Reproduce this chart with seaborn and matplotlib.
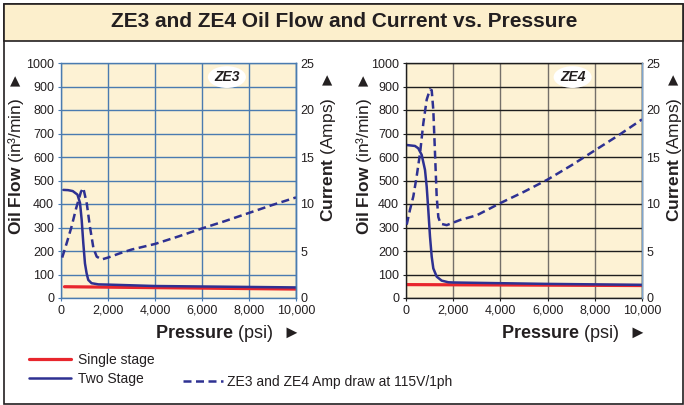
import matplotlib
matplotlib.use("Agg")
import matplotlib.pyplot as plt
from matplotlib.lines import Line2D
from matplotlib.patches import Rectangle
import seaborn as sns

# ---- values (psi, in^3/min, Amps) ----
ZE3_SINGLE_PSI = [150, 10000]
ZE3_SINGLE_FLOW = [48, 38]
ZE3_TWO_PSI = [100, 300, 500, 700, 810, 880, 950, 1020, 1090, 1160, 1300, 1590,
               2000, 4000, 6000, 8000, 10000]
ZE3_TWO_FLOW = [460, 459, 455, 440, 404, 332, 232, 147, 105, 77, 63, 58,
                57, 51, 49, 47, 45]
ZE3_AMP_PSI = [50, 250, 450, 650, 850, 950, 1100, 1230, 1380, 1520, 1730, 2000,
               2500, 3000, 4000, 5000, 6000, 7000, 8000, 9000, 10000]
ZE3_AMPS = [4.3, 5.9, 7.6, 9.6, 11.3, 11.7, 10.0, 7.6, 5.3, 4.4, 4.1, 4.3,
            4.75, 5.15, 5.75, 6.55, 7.4, 8.2, 9.05, 9.9, 10.7]

ZE4_SINGLE_PSI = [30, 10000]
ZE4_SINGLE_FLOW = [57, 53]
ZE4_TWO_PSI = [30, 380, 520, 665, 805, 877, 945, 1017, 1089, 1157, 1300, 1510,
               1790, 2000, 4000, 6000, 8000, 10000]
ZE4_TWO_FLOW = [651, 647, 637, 609, 545, 474, 374, 261, 176, 126, 91, 74,
                67, 66, 63, 60, 58, 56]
ZE4_AMP_PSI = [30, 170, 310, 450, 595, 735, 877, 1017, 1089, 1157, 1229, 1300,
               1370, 1470, 1725, 2290, 3000, 4000, 5000, 6000, 7000, 8000, 9000, 10000]
ZE4_AMPS = [7.8, 9.4, 10.8, 12.9, 15.4, 18.6, 21.1, 22.2, 22.1, 20.0, 15.4, 10.8,
            8.6, 7.9, 7.75, 8.3, 8.8, 10.1, 11.3, 12.6, 14.1, 15.7, 17.3, 19.0]

PSI_TICKS = [0, 2000, 4000, 6000, 8000, 10000]
FLOW_TICKS = list(range(0, 1001, 100))
AMP_TICKS = [0, 5, 10, 15, 20, 25]

TITLE = "ZE3 and ZE4 Oil Flow and Current vs. Pressure"
# labels are rotated 90 deg, so the right-pointing arrow ends up pointing up
FLOW_LABEL = r"$\mathbf{Oil\ Flow}$ (in³/min)  ►"
AMP_LABEL = r"$\mathbf{Current}$ (Amps)  ►"
PSI_LABEL = r"$\mathbf{Pressure}$ (psi)  ►"

CREAM = "#fdf2d4"
BAND = "#fcefcc"
RED = "#e8262d"
BLUE = "#2e3192"
TEXT = "#231f20"
DASH = (0, (3.2, 1.8))

sns.set_style("white")
plt.rcParams["font.family"] = ["Liberation Sans", "DejaVu Sans"]
plt.rcParams["mathtext.fontset"] = "custom"
plt.rcParams["mathtext.rm"] = "Liberation Sans"
plt.rcParams["mathtext.bf"] = "Liberation Sans:bold"
plt.rcParams["mathtext.it"] = "Liberation Sans:italic"


def draw_panel(ax, name, single, two, amps, grid_h, grid_v, spine_col, right_col,
               flow_lab_x, amp_lab_x):
    ax.set_facecolor(CREAM)
    ax.set_axisbelow(True)
    sns.lineplot(x=single[0], y=single[1], ax=ax, color=RED, linewidth=2.3)
    sns.lineplot(x=two[0], y=two[1], ax=ax, color=BLUE, linewidth=1.8)

    ax.set_xlim(0, 10000)
    ax.set_ylim(0, 1000)
    ax.set_xticks(PSI_TICKS)
    ax.set_xticklabels([f"{v:,}" for v in PSI_TICKS])
    ax.set_yticks(FLOW_TICKS)
    ax.xaxis.grid(True, color=grid_v, linewidth=1.0)
    ax.yaxis.grid(True, color=grid_h, linewidth=1.0)
    ax.tick_params(bottom=True, left=True, length=2.5, width=0.8, color=spine_col,
                   labelsize=9, labelcolor=TEXT, pad=2.5)
    for s in ax.spines.values():
        s.set_color(spine_col)
        s.set_linewidth(1.0)

    ax2 = ax.twinx()
    sns.lineplot(x=amps[0], y=amps[1], ax=ax2, color=BLUE, linewidth=1.8, linestyle=DASH)
    ax2.set_ylim(0, 25)
    ax2.set_yticks(AMP_TICKS)
    ax2.grid(False)
    ax2.tick_params(right=True, length=0, labelsize=9, labelcolor=TEXT, pad=3)
    for side in ["left", "top", "bottom"]:
        ax2.spines[side].set_visible(False)
    ax2.spines["right"].set_color(right_col)
    ax2.spines["right"].set_linewidth(1.0)

    ax.set_ylabel(FLOW_LABEL, fontsize=12.5, color=TEXT, loc="top")
    ax.yaxis.set_label_coords(flow_lab_x, 0.957)
    ax2.set_ylabel(AMP_LABEL, fontsize=12.5, color=TEXT, loc="top")
    ax2.yaxis.set_label_coords(amp_lab_x, 0.957)
    ax.set_xlabel(PSI_LABEL, fontsize=13, color=TEXT, loc="right")
    ax.xaxis.set_label_coords(1.01, -0.105)

    ax.text(0.706, 0.94, name, transform=ax.transAxes, fontsize=10, fontweight="bold",
            fontstyle="italic", ha="center", va="center", color=TEXT, zorder=5,
            bbox=dict(boxstyle="ellipse,pad=0.05", fc="white", ec="none"))


fig = plt.figure(figsize=(6.84, 4.05), dpi=100)

# frame and title band
fig.add_artist(Rectangle((4 / 684, 1 - 403.5 / 405), 679 / 684, 399.5 / 405,
                         transform=fig.transFigure, fc="white", ec="#231f20", lw=1.2, zorder=0))
fig.add_artist(Rectangle((4 / 684, 1 - 41 / 405), 679 / 684, 37 / 405,
                         transform=fig.transFigure, fc=BAND, ec="#231f20", lw=1.2, zorder=0))
fig.text(0.503, 1 - 21.5 / 405, TITLE, ha="center", va="center", fontsize=15,
         fontweight="bold", color=TEXT)

ax_l = fig.add_axes([61 / 684, 107 / 405, 235 / 684, 235 / 405])
ax_r = fig.add_axes([406 / 684, 107 / 405, 236 / 684, 235 / 405])

draw_panel(ax_l, "ZE3", (ZE3_SINGLE_PSI, ZE3_SINGLE_FLOW), (ZE3_TWO_PSI, ZE3_TWO_FLOW),
           (ZE3_AMP_PSI, ZE3_AMPS), "#4a7bb0", "#4a7bb0", "#4a7bb0", "#4a7bb0",
           -0.148, 1.10)
draw_panel(ax_r, "ZE4", (ZE4_SINGLE_PSI, ZE4_SINGLE_FLOW), (ZE4_TWO_PSI, ZE4_TWO_FLOW),
           (ZE4_AMP_PSI, ZE4_AMPS), "#1e1e1e", "#75706a", "#1e1e1e", "#7fa6cf",
           -0.136, 1.098)

# legends
h_single = Line2D([], [], color=RED, linewidth=2.3)
h_two = Line2D([], [], color=BLUE, linewidth=1.8)
h_amp = Line2D([], [], color=BLUE, linewidth=1.8, linestyle=DASH)
leg_kw = dict(frameon=False, fontsize=10, borderpad=0, borderaxespad=0,
              labelcolor=TEXT)
fig.legend([h_single, h_two], ["Single stage", "Two Stage"], loc="upper left",
           bbox_to_anchor=(29 / 684, 1 - 353 / 405), handlelength=3.0,
           handletextpad=0.5, labelspacing=0.35, **leg_kw)
fig.legend([h_amp], ["ZE3 and ZE4 Amp draw at 115V/1ph"], loc="upper left",
           bbox_to_anchor=(183 / 684, 1 - 375 / 405), handlelength=2.9,
           handletextpad=0.3, **leg_kw)

fig.savefig("out.png", dpi=100)
